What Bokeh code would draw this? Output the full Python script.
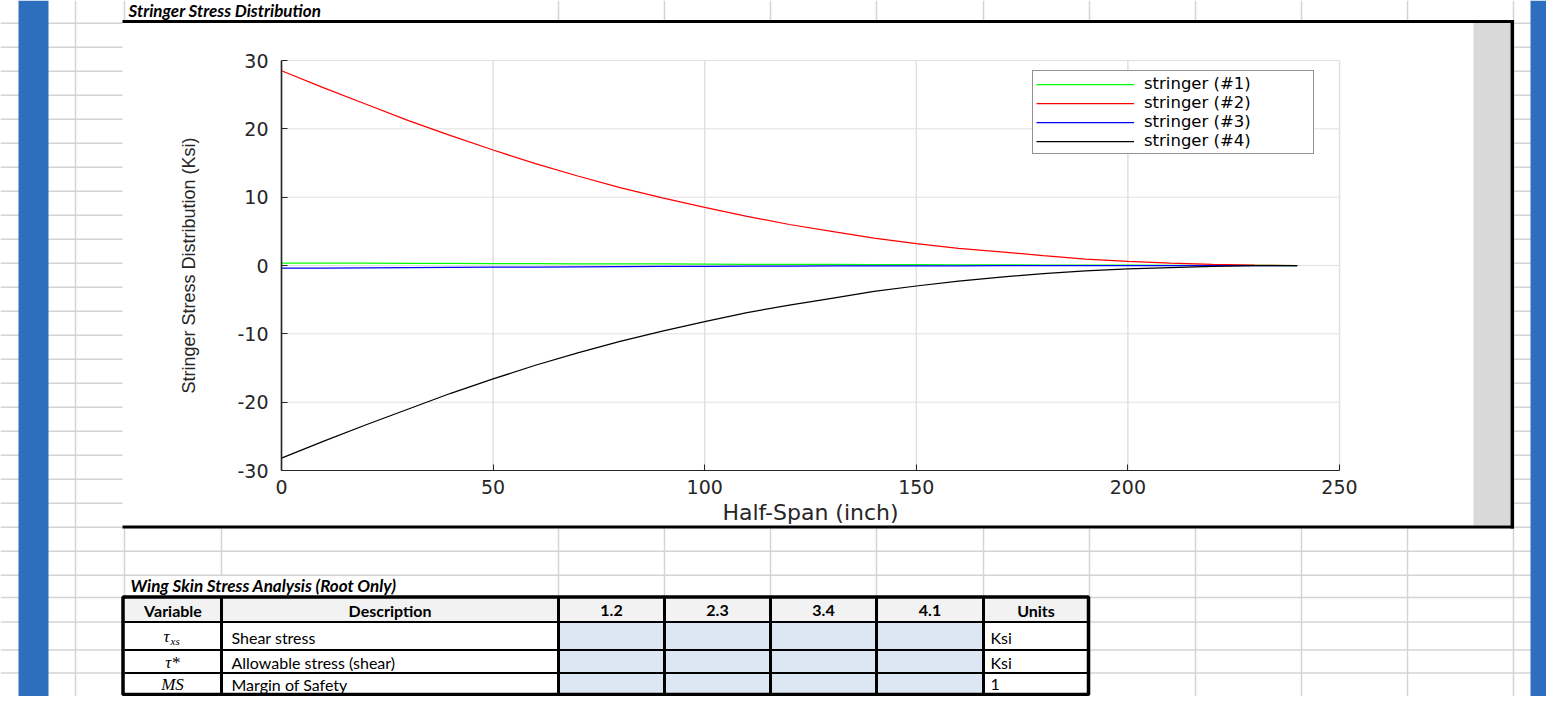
from bokeh.plotting import figure
from bokeh.models import Range1d, LinearAxis, FixedTicker, Legend, LegendItem
from bokeh.core.properties import value
from bokeh.embed import file_html
from bokeh.resources import INLINE

# ---------------- data ----------------
HALF_SPAN = [0, 10, 20, 30, 40, 50, 60, 70, 80, 90, 100, 110, 120,
             130, 140, 150, 160, 170, 180, 190, 200, 210, 220, 230, 240]
STRINGER_1 = [0.35, 0.34, 0.33, 0.31, 0.30, 0.28, 0.27, 0.25, 0.23, 0.22, 0.20, 0.18, 0.17,
              0.15, 0.13, 0.12, 0.10, 0.09, 0.07, 0.06, 0.05, 0.03, 0.02, 0.01, 0.0]
STRINGER_2 = [28.5, 26.0, 23.6, 21.2, 19.0, 16.9, 14.9, 13.1, 11.4, 9.9, 8.5, 7.2, 6.0,
              5.0, 4.0, 3.2, 2.5, 2.0, 1.45, 0.95, 0.6, 0.35, 0.15, 0.05, 0.0]
STRINGER_3 = [-0.40, -0.37, -0.34, -0.31, -0.28, -0.25, -0.22, -0.19, -0.17, -0.14, -0.12, -0.10, -0.08,
              -0.07, -0.06, -0.05, -0.04, -0.03, -0.02, -0.015, -0.01, -0.005, 0.0, 0.0, 0.0]
STRINGER_4 = [-28.2, -25.7, -23.3, -21.0, -18.7, -16.6, -14.6, -12.8, -11.1, -9.6, -8.2, -6.9, -5.8,
              -4.8, -3.8, -3.0, -2.3, -1.7, -1.2, -0.8, -0.5, -0.3, -0.12, -0.03, 0.0]
SERIES_NAMES = ["stringer (#1)", "stringer (#2)", "stringer (#3)", "stringer (#4)"]
SERIES_COLORS = ["#00ff00", "#ff0000", "#0000ff", "#000000"]

X_TICKS = [0, 50, 100, 150, 200, 250]
X_TICK_LABELS = ["0", "50", "100", "150", "200", "250"]
Y_TICKS = [-30, -20, -10, 0, 10, 20, 30]
Y_TICK_LABELS = ["-30", "-20", "-10", "0", "10", "20", "30"]

CHART_TITLE = "Stringer Stress Distribution"
X_LABEL = "Half-Span (inch)"
Y_LABEL = "Stringer Stress Distribution (Ksi)"

TABLE_TITLE = "Wing Skin Stress Analysis (Root Only)"
TABLE_HEADERS = ["Variable", "Description", "1.2", "2.3", "3.4", "4.1", "Units"]
TABLE_DESCRIPTIONS = ["Shear stress", "Allowable stress (shear)", "Margin of Safety"]
TABLE_UNITS = ["Ksi", "Ksi", "1"]

# ---------------- page layout (pixels) ----------------
W, H = 1546, 696
PX0, PY0 = 0, 0
AX_LEFT, AX_RIGHT, AX_TOP, AX_BOTTOM = 281, 1339, 60, 470
XMIN, XMAX, YMIN, YMAX = 0, 250, -30, 30

p = figure(width=W, height=H, x_range=Range1d(PX0, PX0 + W), y_range=Range1d(PY0 + H, PY0),
           min_border=0, toolbar_location=None, output_backend="svg",
           x_axis_location=None, y_axis_location=None,
           background_fill_color="white", border_fill_color="white")
p.outline_line_color = None
for g in p.grid:
    g.visible = False

sx = (AX_RIGHT - AX_LEFT) / (XMAX - XMIN)
sy = (AX_BOTTOM - AX_TOP) / (YMAX - YMIN)
p.extra_x_ranges = {"cx": Range1d(XMIN - (AX_LEFT - PX0) / sx, XMIN + (PX0 + W - AX_LEFT) / sx)}
p.extra_y_ranges = {"cy": Range1d(YMIN - (PY0 + H - AX_BOTTOM) / sy, YMAX + (AX_TOP - PY0) / sy)}

# ---------------- spreadsheet background ----------------
GRID = "#d4d4d4"
row_lines = [22.7 + 24 * k for k in range(24)] + [597, 621.5, 649.5, 672.5]
p.segment(x0=[0] * len(row_lines), x1=[1562] * len(row_lines), y0=row_lines, y1=row_lines,
          line_color=GRID, line_width=1.5)
vsegs = [(75, 0, 712), (124, 0, 20), (124, 527, 712), (221, 527, 575), (221, 598, 712), (1513, 0, 712)]
for xc in [558, 664, 770, 876, 983, 1089, 1195, 1301, 1407]:
    vsegs += [(xc, 0, 20), (xc, 527, 712)]
p.segment(x0=[s[0] for s in vsegs], x1=[s[0] for s in vsegs],
          y0=[s[1] for s in vsegs], y1=[s[2] for s in vsegs], line_color=GRID, line_width=1.5)

# blue side bars
p.quad(left=[18, 1530], right=[48, 1550], top=[0, 0], bottom=[712, 712],
       fill_color="#2e6ebe", line_color=None)

# chart object box
p.quad(left=[122], right=[1513], top=[20], bottom=[528], fill_color="white", line_color=None)
p.quad(left=[1473], right=[1510], top=[22], bottom=[525], fill_color="#d9d9d9", line_color=None)
p.segment(x0=[122, 122], x1=[1513, 1513], y0=[21, 526.5], y1=[21, 526.5], line_color="black", line_width=3)
p.segment(x0=[1511.8], x1=[1511.8], y0=[19.5], y1=[528], line_color="black", line_width=3.5)

p.text(x=[128], y=[10], text=[CHART_TITLE], text_font=value("Lato"), text_font_size="17px",
       text_font_style="bold italic", text_align="left", text_baseline="middle", text_color="black")

# ---------------- chart ----------------
GRID_C = "#e0e0e0"
p.segment(x0=X_TICKS, x1=X_TICKS, y0=[YMIN] * len(X_TICKS), y1=[YMAX] * len(X_TICKS),
          line_color=GRID_C, line_width=1.5, x_range_name="cx", y_range_name="cy")
p.segment(x0=[XMIN] * len(Y_TICKS), x1=[XMAX] * len(Y_TICKS), y0=Y_TICKS, y1=Y_TICKS,
          line_color=GRID_C, line_width=1, x_range_name="cx", y_range_name="cy")

renderers = []
for ys, c in zip([STRINGER_1, STRINGER_2, STRINGER_3, STRINGER_4], SERIES_COLORS):
    r = p.line(HALF_SPAN, ys, line_color=c, line_width=1.25, x_range_name="cx", y_range_name="cy")
    renderers.append(r)

AX_COL = "#262626"
xaxis = LinearAxis(x_range_name="cx", y_range_name="cy", fixed_location=YMIN, bounds=(XMIN, XMAX),
                   ticker=FixedTicker(ticks=X_TICKS),
                   major_label_overrides=dict(zip(X_TICKS, X_TICK_LABELS)),
                   axis_label=X_LABEL)
yaxis = LinearAxis(x_range_name="cx", y_range_name="cy", fixed_location=XMIN, bounds=(YMIN, YMAX),
                   ticker=FixedTicker(ticks=Y_TICKS),
                   major_label_overrides=dict(zip(Y_TICKS, Y_TICK_LABELS)),
                   axis_label=Y_LABEL)
for ax, lw in ((xaxis, 1.2), (yaxis, 1.6)):
    ax.axis_line_color = AX_COL
    ax.axis_line_width = lw
    ax.major_tick_line_color = AX_COL
    ax.major_tick_in = 6
    ax.major_tick_out = 0
    ax.minor_tick_line_color = None
    ax.major_label_text_font = "DejaVu Sans"
    ax.major_label_text_font_size = "19px"
    ax.major_label_text_color = AX_COL
    ax.axis_label_text_color = AX_COL
    ax.axis_label_text_font_style = "normal"
xaxis.major_label_standoff = 9
xaxis.axis_label_text_font = "DejaVu Sans"
xaxis.axis_label_text_font_size = "22px"
xaxis.axis_label_standoff = 3
yaxis.major_label_standoff = 13
yaxis.axis_label_text_font = "Liberation Sans"
yaxis.axis_label_text_font_size = "18px"
yaxis.axis_label_standoff = 35
p.add_layout(xaxis, "below")
p.add_layout(yaxis, "left")

legend = Legend(items=[LegendItem(label=n, renderers=[r]) for n, r in zip(SERIES_NAMES, renderers)],
                location=(1032, 542))
legend.border_line_color = AX_COL
legend.border_line_width = 1
legend.background_fill_color = "white"
legend.background_fill_alpha = 1
legend.label_text_font = "DejaVu Sans"
legend.label_text_font_size = "16.5px"
legend.label_text_color = "black"
legend.glyph_width = 98
legend.glyph_height = 14
legend.label_height = 14
legend.label_width = 166
legend.label_standoff = 10
legend.spacing = 0
legend.padding = 3
legend.margin = 0
p.add_layout(legend)

# ---------------- table ----------------
COL_EDGES = [124, 221, 558, 664, 770, 876, 983, 1088]
ROW_EDGES = [596.5, 621.5, 649.5, 672.5, 694]
p.quad(left=[COL_EDGES[0]], right=[COL_EDGES[-1]], top=[ROW_EDGES[0]], bottom=[ROW_EDGES[1]],
       fill_color="#f2f2f2", line_color=None)
p.quad(left=[COL_EDGES[0], COL_EDGES[6]] * 3, right=[COL_EDGES[2], COL_EDGES[7]] * 3,
       top=[ROW_EDGES[1], ROW_EDGES[1], ROW_EDGES[2], ROW_EDGES[2], ROW_EDGES[3], ROW_EDGES[3]],
       bottom=[ROW_EDGES[2], ROW_EDGES[2], ROW_EDGES[3], ROW_EDGES[3], ROW_EDGES[4], ROW_EDGES[4]],
       fill_color="white", line_color=None)
p.quad(left=[COL_EDGES[2]], right=[COL_EDGES[6]], top=[ROW_EDGES[1]], bottom=[ROW_EDGES[4]],
       fill_color="#dde7f3", line_color=None)
# inner horizontal borders
p.segment(x0=[COL_EDGES[0]] * 3, x1=[COL_EDGES[-1]] * 3, y0=ROW_EDGES[1:4], y1=ROW_EDGES[1:4],
          line_color="black", line_width=2.2)
# inner vertical borders
p.segment(x0=COL_EDGES[1:-1], x1=COL_EDGES[1:-1], y0=[ROW_EDGES[0]] * 6, y1=[ROW_EDGES[-1]] * 6,
          line_color="black", line_width=3)
# outer border
p.quad(left=[122.5], right=[COL_EDGES[-1]], top=[ROW_EDGES[0]], bottom=[ROW_EDGES[-1]],
       fill_color=None, line_color="black", line_width=3.5)

p.text(x=[130], y=[585], text=[TABLE_TITLE], text_font=value("Lato"), text_font_size="17px",
       text_font_style="bold italic", text_align="left", text_baseline="middle", text_color="black")

hx = [(COL_EDGES[i] + COL_EDGES[i + 1]) / 2 for i in range(len(TABLE_HEADERS))]
p.text(x=hx, y=[609.5] * len(hx), text=TABLE_HEADERS, text_font=value("Lato"), text_font_size="16px",
       text_font_style="bold", text_align="center", text_baseline="middle", text_color="black")

row_mid = [(ROW_EDGES[i] + ROW_EDGES[i + 1]) / 2 + 1 for i in range(1, 4)]
p.text(x=[231] * 3, y=row_mid, text=TABLE_DESCRIPTIONS, text_font=value("Lato"), text_font_size="16px",
       text_align="left", text_baseline="middle", text_color="black")
p.text(x=[990] * 3, y=row_mid, text=TABLE_UNITS, text_font=value("Lato"), text_font_size="16px",
       text_align="left", text_baseline="middle", text_color="black")

# variable symbols (italic math)
p.text(x=[166, 172, 172], y=[row_mid[0] - 1, row_mid[1], row_mid[2]], text=["τ", "τ*", "MS"],
       text_font=value("Liberation Serif"), text_font_size="17px", text_font_style="italic",
       text_align="center", text_baseline="middle", text_color="black")
p.text(x=[170], y=[row_mid[0] + 4], text=["xs"], text_font=value("Liberation Serif"),
       text_font_size="11px", text_font_style="italic", text_align="left", text_baseline="middle",
       text_color="black")

open("out.html", "w").write(file_html(p, INLINE))
